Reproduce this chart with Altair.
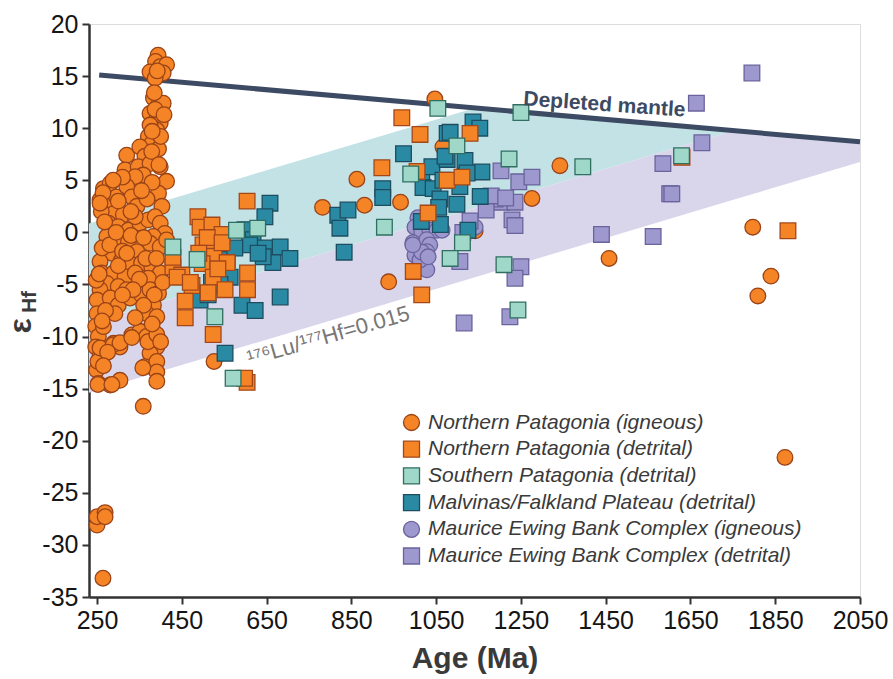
import altair as alt
import numpy as np
import pandas as pd

# ---------------- data ----------------
GROUPS = [
    "Northern Patagonia (igneous)",
    "Northern Patagonia (detrital)",
    "Southern Patagonia (detrital)",
    "Malvinas/Falkland Plateau (detrital)",
    "Maurice Ewing Bank Complex (igneous)",
    "Maurice Ewing Bank Complex (detrital)",
]
FILLS = ["#f58426", "#f58426", "#9fd8c8", "#2b8aa3", "#9d99cf", "#9d99cf"]
STROKES = ["#9a4317", "#a3471a", "#2f6e60", "#1c4d60", "#6a639c", "#6a639c"]
SHAPES = ["circle", "square", "square", "square", "circle", "square"]

# Northern Patagonia (igneous)
np_ign_age = [
    394, 388, 399, 414, 406, 375, 387, 392,
    383, 395, 406, 375, 391, 399, 383, 371, 391, 387, 379, 395,
    320, 316, 414, 399, 351, 363, 347, 375, 359, 379, 340, 396,
    265, 281, 257, 273, 296, 320, 332, 344, 289, 312, 277, 300, 324, 351, 371,
    395, 403, 387, 399, 410, 383, 375, 399, 414,
    273, 300, 324, 344, 285, 308, 332, 355, 257, 261, 289, 316, 340, 379, 399, 371,
    273, 300, 320, 257, 250, 281, 300, 328, 355, 375, 395, 383, 367, 391,
    250, 247, 253, 247, 257, 249, 253,
    265, 289, 304, 332, 351, 367, 383, 391, 375, 363, 391, 391, 391, 281, 304, 359,
    252, 285, 358, 252, 257, 288, 304, 332, 370, 391,
    250, 250, 269, 269, 264,
    260, 268, 262, 280, 295, 310, 330, 340, 360, 365, 350, 335, 310, 292, 270, 262,
    300, 320, 390, 405, 385, 360, 340, 275, 265, 380, 400, 248, 255, 368, 380, 355,
    310, 300, 330, 400, 375, 408, 385, 380, 288, 264, 257,
    526, 863, 782, 881, 966, 938, 1047, 1066, 1342, 1276, 1142, 1458, 1797, 1840, 1809, 1873,
]
np_ign_ehf = [
    17.0, 16.4, 15.9, 16.1, 15.3, 15.4, 14.8, 15.5,
    12.9, 12.2, 12.4, 11.4, 10.9, 10.5, 10.0, 9.2, 9.8, 11.8, 8.5, 8.0,
    7.4, 6.0, 4.9, 6.3, 8.2, 7.3, 6.3, 6.6, 5.5, 7.75, 5.35, 6.5,
    4.2, 4.7, 3.1, 2.8, 3.4, 4.4, 3.4, 2.5, 1.8, 1.7, 0.87, 0.55, 0.2, 0.87, 1.2,
    3.75, 2.5, 1.5, 0.87, -0.1, -0.4, -1.05, -1.4, -0.73,
    -0.4, -0.9, -0.9, -1.85, -2.0, -2.65, -3.1, -2.95, -2.8, -3.9, -3.9, -4.25, -3.9, -3.3, -3.9, -4.4,
    -4.9, -5.2, -5.5, -5.5, -6.5, -6.3, -7.0, -6.3, -6.0, -5.5, -5.85, -7.0, -7.8, -8.1,
    -7.8, -9.0, -10.0, -11.0, -11.9, -13.2, -14.5,
    -9.05, -10.65, -11.0, -9.85, -9.5, -10.0, -10.3, -11.0, -11.6, -12.9, -12.4, -13.4, -14.3, -14.65, -14.2, -16.7,
    -14.6, -14.6, -13.0, -12.4, -11.1, -10.8, -10.6, -10.1, -10.5, -9.8,
    -28.1, -27.3, -26.9, -27.3, -33.2,
    2.0, 1.0, -1.5, -1.2, 0.0, -1.8, -0.3, 1.5, -0.5, -2.5, -4.5, -5.5, -6.0, -7.8, -7.5, -8.5,
    -3.2, -2.0, -2.5, -4.8, -6.0, -7.0, -8.2, -11.5, -12.8, -8.8, -10.5, -4.6, -4.0, 3.2, 4.8, 4.0,
    5.3, 3.0, 2.0, 9.2, 10.3, 11.3, 13.4, 9.7, 5.0, 3.8, 2.8,
    -12.4, 5.1, 2.4, 2.6, 2.9, -4.75, 12.8, 8.2, 6.4, 3.25, 0.15, -2.5, 0.5, -4.2, -6.1, -21.6,
]

# Northern Patagonia (detrital)
np_det_age = [488, 493, 521, 604, 545, 500, 524, 526, 498, 557, 429, 450, 439, 524, 605,
              474, 512, 552, 605, 458, 458, 524, 604, 598, 429, 510, 535, 470, 490, 545,
              969, 922, 1012, 1031, 996, 1016, 1076, 1005, 1130, 1111, 1880, 1630]
np_det_ehf = [1.5, 0.5, 0.7, 3.0, -0.2, -1.2, -1.5, -2.3, -3.0, -2.9, -3.3, -4.1, -4.3, -4.3, -3.9,
              -5.1, -5.8, -5.5, -5.5, -6.6, -8.2, -9.8, -14.4, -14.0, -2.4, -0.5, -3.5, -4.8, -2.0, -1.0,
              11.0, 6.2, 9.4, 1.85, -3.75, -6.0, 5.0, 5.85, 9.5, 5.3, 0.15, 7.2]

# Southern Patagonia (detrital)
sp_det_age = [429, 486, 579, 629, 528, 571, 928, 990, 1054, 1250, 1099, 1222, 1396, 1629,
              1112, 1083, 1210, 1243]
sp_det_ehf = [-1.4, -2.6, 0.2, 0.4, -8.1, -14.0, 0.5, 5.6, 11.9, 11.5, 8.3, 7.05, 6.3, 7.35,
              -1.0, -2.5, -3.1, -7.45]

# Malvinas/Falkland Plateau (detrital)
mfp_det_age = [658, 646, 599, 618, 646, 682, 705, 665, 642, 557, 564, 682, 592, 623, 493, 512,
               818, 842, 823, 833, 924, 924, 973, 1016, 1040, 1019, 1043, 1059, 1056, 1015, 1060,
               1076, 1076, 552, 1137, 1153, 1083, 1118, 1071, 1158, 1123, 1106, 1066, 1154, 1099,
               1125, 610, 630, 575, 540, 520]
mfp_det_ehf = [2.8, 1.5, 0.25, -0.7, -1.5, -1.4, -2.5, -2.9, -2.35, -2.6, -4.3, -6.2, -7.0, -7.5, -6.5, -6.0,
               1.65, 2.15, 0.4, -1.9, 4.2, 3.35, 7.55, 5.7, 6.3, 4.3, 4.2, 3.2, 2.4, 1.05, 0.75,
               9.5, 7.0, -11.6, 10.6, 10.0, 9.6, 6.9, 7.3, 5.8, 5.7, 4.4, 5.0, 3.45, 2.7,
               0.2, -1.2, -2.0, -1.5, -5.0, -4.8]

# Maurice Ewing Bank Complex (igneous)
meb_ign_age = [1007, 1000, 1016, 1035, 1052, 995, 1028, 1035, 1000, 1028, 1028, 1012, 1016, 1031,
               995, 1064, 1142]
meb_ign_ehf = [1.4, 0.5, 0.0, 0.2, 0.2, -1.0, -0.7, -1.2, -2.2, -1.85, -3.6, -2.65, -1.9, -2.35,
               -1.2, 0.2, 0.5]

# Maurice Ewing Bank Complex (detrital)
meb_det_age = [1795, 1664, 1677, 1585, 1601, 1606, 1440, 1562, 1203, 1245, 1276, 1203, 1236, 1189,
               1168, 1229, 1236, 1130, 1106, 1250, 1236, 1224, 1116, 1113, 1180, 1214]
meb_det_ehf = [15.3, 12.4, 8.6, 6.6, 3.7, 3.7, -0.2, -0.4, 5.9, 4.85, 5.3, 2.9, 2.9, 3.2,
               2.15, 1.2, 0.65, 1.1, -2.8, -3.3, -4.4, -8.1, -8.7, 0.0, 3.5, 3.3]

# Reference lines
DM_AGE = [255, 2050]          # depleted mantle
DM_EHF = [15.1, 8.7]
EVO_START_AGE = 231           # 176Lu/177Hf = 0.015 crustal evolution lines
EVO_SLOPE = 0.01218           # eHf units per Ma
EVO_UPPER = 0.85
EVO_MIDDLE = -8.75
EVO_LOWER = -15.4
EVO_LOWER_END = 6.76
X_MAX = 2050

X_TICKS = list(range(250, 2051, 200))
Y_TICKS = list(range(-35, 21, 5))

# ---------------- tables ----------------
series = [
    (GROUPS[0], np_ign_age, np_ign_ehf),
    (GROUPS[4], meb_ign_age, meb_ign_ehf),
    (GROUPS[5], meb_det_age, meb_det_ehf),
    (GROUPS[3], mfp_det_age, mfp_det_ehf),
    (GROUPS[1], np_det_age, np_det_ehf),
    (GROUPS[2], sp_det_age, sp_det_ehf),
]
pts = pd.concat(
    [pd.DataFrame({"age": a, "ehf": e, "group": g}) for g, a, e in series],
    ignore_index=True,
)
pts["order"] = np.arange(len(pts))


def dm(x):
    return DM_EHF[0] + (DM_EHF[1] - DM_EHF[0]) * (np.asarray(x) - DM_AGE[0]) / (DM_AGE[1] - DM_AGE[0])


def evo(start, x):
    return start + EVO_SLOPE * (np.asarray(x) - EVO_START_AGE)


def meet_dm(start):
    # age where an evolution line reaches the depleted mantle line
    k = (DM_EHF[1] - DM_EHF[0]) / (DM_AGE[1] - DM_AGE[0])
    return (DM_EHF[0] - k * DM_AGE[0] - start + EVO_SLOPE * EVO_START_AGE) / (EVO_SLOPE - k)


xu = meet_dm(EVO_UPPER)
xm = meet_dm(EVO_MIDDLE)
cyan_x = np.array([EVO_START_AGE, xu, xm])
cyan = pd.DataFrame({
    "age": cyan_x,
    "top": np.minimum(evo(EVO_UPPER, cyan_x), dm(cyan_x)),
    "bot": evo(EVO_MIDDLE, cyan_x),
})
purple_x = np.array([EVO_START_AGE, xm, X_MAX])
purple = pd.DataFrame({
    "age": purple_x,
    "top": np.minimum(evo(EVO_MIDDLE, purple_x), dm(purple_x)),
    "bot": EVO_LOWER + (purple_x - EVO_START_AGE) * (EVO_LOWER_END - EVO_LOWER) / (X_MAX - EVO_START_AGE),
})
dm_df = pd.DataFrame({"age": DM_AGE, "ehf": DM_EHF})

FONT = "Liberation Sans"
xs = alt.Scale(domain=[231, 2050], nice=False, zero=False)
ys = alt.Scale(domain=[-35, 20], nice=False, zero=False)

x_axis = alt.Axis(
    values=X_TICKS, title="Age (Ma)", grid=False, labelExpr="'' + datum.value",
    domainColor="#333333", domainWidth=2.5, tickColor="#333333", tickWidth=2, tickSize=7,
    labelFont=FONT, labelFontSize=25, labelColor="#151515", labelPadding=4,
    labelFlush=False, labelOverlap=False,
    titleFont=FONT, titleFontSize=30, titleFontWeight="bold", titleColor="#3a3a3a", titlePadding=10,
)
y_axis = alt.Axis(
    values=Y_TICKS, title=None, grid=False, labelExpr="'' + datum.value",
    domainColor="#333333", domainWidth=2.5, tickColor="#333333", tickWidth=2, tickSize=7,
    labelFont=FONT, labelFontSize=25, labelColor="#151515", labelPadding=4,
    labelFlush=False, labelOverlap=False,
)

legend = alt.Legend(
    title=None, orient="none", legendX=312, legendY=388,
    symbolSize=256, symbolStrokeWidth=1.3, symbolOpacity=1,
    labelFont=FONT, labelFontSize=21, labelFontStyle="italic", labelColor="#3a3a3a",
    labelLimit=0, rowPadding=3.7, labelOffset=6,
)

band_c = alt.Chart(cyan).mark_area(color="#c3e2e6", opacity=1).encode(
    x=alt.X("age:Q", scale=xs, axis=x_axis),
    y=alt.Y("top:Q", scale=ys, axis=y_axis),
    y2="bot:Q",
)
band_p = alt.Chart(purple).mark_area(color="#d9d6ec", opacity=1).encode(
    x=alt.X("age:Q", scale=xs),
    y=alt.Y("top:Q", scale=ys),
    y2="bot:Q",
)
dm_line = alt.Chart(dm_df).mark_line(color="#3d4a63", strokeWidth=5).encode(
    x=alt.X("age:Q", scale=xs),
    y=alt.Y("ehf:Q", scale=ys),
)

points = alt.Chart(pts).mark_point(filled=True, size=245, strokeWidth=1.3, opacity=1).encode(
    x=alt.X("age:Q", scale=xs),
    y=alt.Y("ehf:Q", scale=ys),
    fill=alt.Fill("group:N", scale=alt.Scale(domain=GROUPS, range=FILLS), legend=legend),
    stroke=alt.Stroke("group:N", scale=alt.Scale(domain=GROUPS, range=STROKES), legend=legend),
    shape=alt.Shape("group:N", scale=alt.Scale(domain=GROUPS, range=SHAPES), legend=legend),
    order=alt.Order("order:Q"),
)

dm_label = alt.Chart(pd.DataFrame({"age": [1446], "ehf": [11.65], "t": ["Depleted mantle"]})).mark_text(
    font=FONT, fontSize=21, fontWeight="bold", color="#3d4a63", angle=4, align="center", baseline="alphabetic"
).encode(x=alt.X("age:Q", scale=xs), y=alt.Y("ehf:Q", scale=ys), text="t:N")

lu_label = alt.Chart(pd.DataFrame({"age": [800], "ehf": [-10.6], "t": ["¹⁷⁶Lu/¹⁷⁷Hf=0.015"]})).mark_text(
    font=FONT, fontSize=22, color="#777777", angle=344, align="center", baseline="alphabetic"
).encode(x=alt.X("age:Q", scale=xs), y=alt.Y("ehf:Q", scale=ys), text="t:N")

# y-axis title: epsilon with Hf subscript
eps = alt.Chart(pd.DataFrame({"t": ["ε"]})).mark_text(
    font=FONT, fontSize=32, fontWeight="bold", color="#3a3a3a", angle=270, align="center", baseline="middle"
).encode(x=alt.value(-68), y=alt.value(302), text="t:N")
hf = alt.Chart(pd.DataFrame({"t": ["Hf"]})).mark_text(
    font=FONT, fontSize=21, fontWeight="bold", color="#3a3a3a", angle=270, align="center", baseline="middle"
).encode(x=alt.value(-59), y=alt.value(278), text="t:N")

chart = alt.layer(band_c, band_p, dm_line, points, dm_label, lu_label, eps, hf).properties(
    width=771, height=573,
    padding={"left": 89, "top": 24, "right": 33, "bottom": 82},
    autosize=alt.AutoSizeParams(type="none"),
).configure_view(stroke=None).configure(background="white")

chart.save("out.html", embed_options={"renderer": "svg", "actions": False})
